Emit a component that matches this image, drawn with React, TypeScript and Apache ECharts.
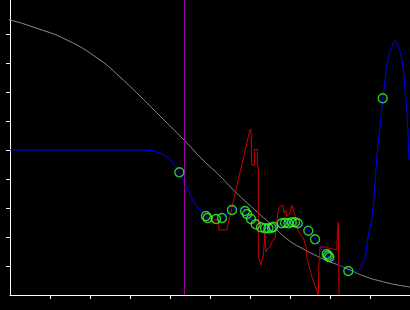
import React, { useEffect, useRef } from "react";
import * as echarts from "echarts";

// x axis: 0..10, ticks every 1; y axis: 0..~10.17, ticks every 1
const xTicks = [1, 2, 3, 4, 5, 6, 7, 8, 9];
const yTicks = [1, 2, 3, 4, 5, 6, 7, 8, 9];
const cursorX = 4.36;

const grayCurve: number[][] = [
  [-0.25, 9.552], [0, 9.483], [0.575, 9.241], [1.425, 8.793], [2.25, 8.103],
  [2.75, 7.517], [3.25, 6.862], [3.75, 6.172], [4.35, 5.345], [4.825, 4.655],
  [5.25, 4.103], [5.625, 3.569], [6.125, 2.931], [6.543, 2.414], [6.958, 1.897],
  [7.375, 1.552], [7.625, 1.379], [7.875, 1.207], [8.175, 1.052], [8.5, 0.862],
  [8.875, 0.638], [9.25, 0.483], [9.625, 0.362], [10, 0.276],
];

const blueCurve: number[][] = [
  [0, 5.0], [3.25, 5.0], [3.5, 4.983], [3.75, 4.897], [3.925, 4.759], [4.075, 4.552],
  [4.225, 4.241], [4.35, 3.897], [4.425, 3.724], [4.575, 3.276], [4.75, 2.931],
  [4.925, 2.69], [5.05, 2.621], [5.15, 2.603], [5.3, 2.655], [5.425, 2.793],
  [5.55, 2.931], [5.65, 2.983], [5.75, 3.0], [5.85, 2.948], [5.925, 2.793],
  [6.025, 2.621], [6.125, 2.448], [6.25, 2.345], [6.375, 2.3], [6.5, 2.31],
  [6.625, 2.379], [6.75, 2.448], [6.875, 2.483], [7.05, 2.517], [7.175, 2.483],
  [7.325, 2.379], [7.45, 2.241], [7.625, 1.931], [7.8, 1.621], [7.95, 1.345],
  [8.125, 1.138], [8.3, 0.966], [8.475, 0.828], [8.575, 0.793], [8.675, 0.828],
  [8.75, 0.931], [8.875, 1.31], [8.95, 2.0], [9.05, 2.69], [9.125, 3.862],
  [9.175, 4.828], [9.25, 5.793], [9.325, 6.793], [9.375, 7.414], [9.45, 8.103],
  [9.55, 8.552], [9.625, 8.759], [9.7, 8.586], [9.8, 8.103], [9.875, 7.069],
  [9.925, 6.276], [9.975, 4.655],
];

const redTrace: number[][] = [
  [4.975, 2.69], [5.05, 2.586], [5.075, 2.517], [5.143, 2.586], [5.208, 2.586],
  [5.225, 2.241], [5.418, 2.241], [5.458, 2.472], [5.543, 2.99], [6.0, 5.714],
  [6.025, 5.714], [6.043, 4.483], [6.108, 4.483], [6.108, 5.024], [6.183, 5.024],
  [6.183, 4.424], [6.208, 4.424], [6.208, 1.321], [6.275, 1.034], [6.333, 1.379],
  [6.375, 2.128], [6.393, 1.483], [6.458, 1.621], [6.5, 1.666], [6.55, 1.838],
  [6.625, 1.955], [6.65, 2.355], [6.708, 2.931], [6.75, 3.045], [6.818, 3.103],
  [6.858, 2.817], [6.893, 2.931], [6.918, 2.7], [7.0, 2.828], [7.043, 3.103],
  [7.083, 2.931], [7.125, 2.759], [7.208, 2.183], [7.333, 1.955], [7.4, 1.666],
  [7.418, 1.321], [7.543, 0.631], [7.668, 0.172], [7.708, 0], [7.725, 1.138],
  [7.75, 1.655], [7.918, 1.655], [7.958, 1.621], [8.168, 1.552], [8.183, 2.069],
  [8.208, 2.517], [8.225, 0],
];

const samplePoints: number[][] = [
  [4.233, 4.231], [4.9, 2.724], [4.938, 2.655], [5.15, 2.621], [5.3, 2.655],
  [5.55, 2.931], [5.875, 2.897], [5.925, 2.793], [6.025, 2.621], [6.143, 2.438],
  [6.275, 2.334], [6.375, 2.3], [6.458, 2.3], [6.543, 2.321], [6.583, 2.355],
  [6.793, 2.472], [6.875, 2.493], [6.958, 2.472], [7.043, 2.507], [7.125, 2.507],
  [7.193, 2.472], [7.458, 2.217], [7.625, 1.921], [7.918, 1.414], [7.95, 1.362],
  [7.983, 1.31], [8.458, 0.828], [9.318, 6.783],
];

export default function App() {
  const ref = useRef<HTMLDivElement>(null);
  useEffect(() => {
    if (!ref.current) return;
    const chart = echarts.init(ref.current, null, { renderer: "svg" });
    chart.setOption({
      animation: false,
      backgroundColor: "#000000",
      grid: { left: 10, right: 0, top: 0, bottom: 15 },
      xAxis: {
        type: "value",
        min: 0,
        max: 10,
        interval: 1,
        axisLine: { show: true, onZero: false, lineStyle: { color: "#ffffff", width: 1 } },
        axisTick: { show: true, length: 4, inside: false, customValues: xTicks, lineStyle: { color: "#ffffff" } },
        axisLabel: { show: false },
        splitLine: { show: false },
      },
      yAxis: {
        type: "value",
        min: 0,
        max: 295 / 29,
        interval: 1,
        axisLine: { show: true, onZero: false, lineStyle: { color: "#ffffff", width: 1 } },
        axisTick: { show: true, length: 4, inside: false, customValues: yTicks, lineStyle: { color: "#ffffff" } },
        axisLabel: { show: false },
        splitLine: { show: false },
      },
      series: [
        {
          type: "line",
          data: [],
          z: 1,
          markLine: {
            silent: true,
            symbol: "none",
            label: { show: false },
            lineStyle: { color: "#990099", width: 1, type: "solid" },
            data: [{ xAxis: cursorX }],
          },
        },
        {
          type: "line",
          data: grayCurve,
          clip: false,
          smooth: true,
          showSymbol: false,
          z: 2,
          lineStyle: { color: "#8c8c8c", width: 1 },
        },
        {
          type: "line",
          data: blueCurve,
          smooth: true,
          showSymbol: false,
          z: 3,
          lineStyle: { color: "#0000ff", width: 1 },
        },
        {
          type: "line",
          data: redTrace,
          showSymbol: false,
          z: 4,
          lineStyle: { color: "#cc0000", width: 1 },
        },
        {
          type: "scatter",
          data: samplePoints,
          symbol: "circle",
          symbolSize: 9,
          z: 5,
          itemStyle: { color: "transparent", borderColor: "#33ff33", borderWidth: 1.4 },
        },
      ],
    });
    return () => chart.dispose();
  }, []);
  return (
    <div
      ref={ref}
      style={{ position: "absolute", left: 0, top: 0, width: 410, height: 310 }}
    />
  );
}
